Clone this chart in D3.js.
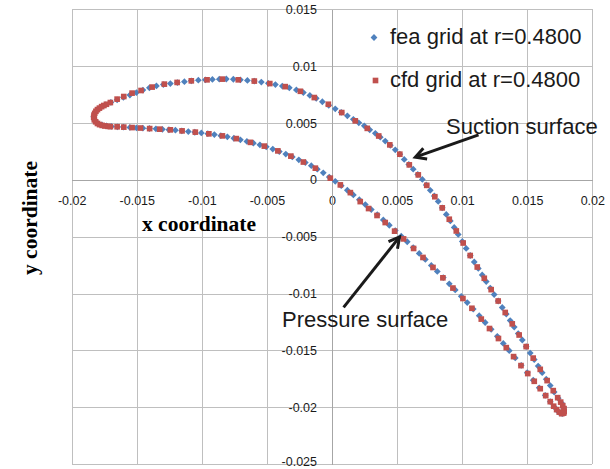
<!DOCTYPE html>
<html><head><meta charset="utf-8">
<script src="https://cdn.jsdelivr.net/npm/d3@7/dist/d3.min.js"></script>
<style>html,body{margin:0;padding:0;background:#fff;}svg{display:block;}</style>
</head><body>
<script>
// ---- data (x, y) ----
const feaSuction = [[-0.01831,0.00555],[-0.01822,0.00590],[-0.01799,0.00621],[-0.01772,0.00643],[-0.01741,0.00660],[-0.01699,0.00682],[-0.01651,0.00704],[-0.01603,0.00726],[-0.01553,0.00746],[-0.01503,0.00768],
[-0.01453,0.00790],[-0.01403,0.00810],[-0.01349,0.00826],[-0.01296,0.00838],[-0.01242,0.00847],[-0.01188,0.00856],[-0.01134,0.00864],[-0.01081,0.00871],[-0.01027,0.00877],[-0.00973,0.00880],
[-0.00919,0.00883],[-0.00866,0.00886],[-0.00812,0.00887],[-0.00758,0.00885],[-0.00704,0.00880],[-0.00650,0.00875],[-0.00597,0.00869],[-0.00543,0.00860],[-0.00489,0.00849],[-0.00435,0.00838],
[-0.00382,0.00825],[-0.00328,0.00810],[-0.00274,0.00791],[-0.00220,0.00768],[-0.00170,0.00743],[-0.00121,0.00717],[-0.00074,0.00687],[-0.00025,0.00656],[0.00025,0.00625],[0.00071,0.00594],
[0.00118,0.00563],[0.00164,0.00533],[0.00206,0.00502],[0.00248,0.00475],[0.00290,0.00440],[0.00333,0.00409],[0.00371,0.00376],[0.00409,0.00341],[0.00448,0.00304],[0.00486,0.00264],
[0.00521,0.00226],[0.00555,0.00180],[0.00590,0.00136],[0.00624,0.00094],[0.00659,0.00048],[0.00694,0.00004],[0.00724,-0.00044],[0.00755,-0.00092],[0.00786,-0.00141],[0.00816,-0.00189],
[0.00847,-0.00246],[0.00878,-0.00304],[0.00909,-0.00361],[0.00939,-0.00418],[0.00970,-0.00480],[0.01001,-0.00541],[0.01031,-0.00603],[0.01062,-0.00665],[0.01093,-0.00722],[0.01124,-0.00779],
[0.01154,-0.00836],[0.01185,-0.00894],[0.01216,-0.00951],[0.01246,-0.01008],[0.01277,-0.01065],[0.01308,-0.01122],[0.01339,-0.01180],[0.01369,-0.01237],[0.01400,-0.01294],[0.01431,-0.01351],
[0.01462,-0.01408],[0.01492,-0.01466],[0.01523,-0.01523],[0.01554,-0.01580],[0.01584,-0.01637],[0.01615,-0.01695],[0.01646,-0.01752],[0.01677,-0.01809],[0.01707,-0.01866],[0.01738,-0.01919],
[0.01765,-0.01963],[0.01780,-0.02003],[0.01780,-0.02034]];

const feaPressure = [[-0.01822,0.00519],[-0.01799,0.00497],[-0.01768,0.00484],[-0.01733,0.00475],[-0.01695,0.00470],[-0.01649,0.00467],[-0.01603,0.00464],[-0.01553,0.00461],[-0.01503,0.00458],[-0.01453,0.00455],
[-0.01403,0.00452],[-0.01353,0.00449],[-0.01303,0.00445],[-0.01253,0.00441],[-0.01203,0.00437],[-0.01154,0.00431],[-0.01104,0.00425],[-0.01054,0.00419],[-0.01004,0.00413],[-0.00954,0.00406],
[-0.00904,0.00398],[-0.00854,0.00389],[-0.00804,0.00379],[-0.00754,0.00366],[-0.00704,0.00352],[-0.00654,0.00338],[-0.00604,0.00323],[-0.00554,0.00308],[-0.00505,0.00291],[-0.00455,0.00271],
[-0.00405,0.00249],[-0.00355,0.00227],[-0.00305,0.00202],[-0.00255,0.00176],[-0.00205,0.00152],[-0.00159,0.00125],[-0.00113,0.00094],[-0.00067,0.00062],[-0.00021,0.00025],[0.00025,-0.00013],
[0.00071,-0.00051],[0.00118,-0.00091],[0.00164,-0.00132],[0.00210,-0.00174],[0.00256,-0.00217],[0.00302,-0.00261],[0.00348,-0.00306],[0.00394,-0.00352],[0.00440,-0.00399],[0.00486,-0.00446],
[0.00532,-0.00495],[0.00578,-0.00544],[0.00624,-0.00595],[0.00670,-0.00647],[0.00717,-0.00699],[0.00763,-0.00752],[0.00809,-0.00805],[0.00855,-0.00859],[0.00901,-0.00914],[0.00947,-0.00968],
[0.00993,-0.01024],[0.01039,-0.01079],[0.01085,-0.01136],[0.01131,-0.01194],[0.01177,-0.01254],[0.01223,-0.01314],[0.01270,-0.01376],[0.01316,-0.01438],[0.01362,-0.01502],[0.01408,-0.01566],
[0.01454,-0.01631],[0.01500,-0.01696],[0.01546,-0.01761],[0.01592,-0.01828],[0.01638,-0.01894],[0.01677,-0.01950],[0.01711,-0.02001],[0.01742,-0.02041],[0.01769,-0.02056]];

const cfdSuction = [[-0.01831,0.00550],[-0.01829,0.00568],[-0.01823,0.00585],[-0.01814,0.00603],[-0.01802,0.00618],[-0.01787,0.00631],[-0.01770,0.00644],[-0.01753,0.00654],[-0.01733,0.00665],[-0.01703,0.00680],
[-0.01651,0.00710],[-0.01600,0.00733],[-0.01536,0.00763],[-0.01467,0.00786],[-0.01382,0.00816],[-0.01288,0.00842],[-0.01190,0.00857],[-0.01081,0.00871],[-0.00960,0.00880],[-0.00842,0.00886],
[-0.00720,0.00880],[-0.00597,0.00869],[-0.00478,0.00847],[-0.00359,0.00820],[-0.00243,0.00779],[-0.00136,0.00724],[-0.00028,0.00665],[0.00075,0.00592],[0.00179,0.00519],[0.00271,0.00453],
[0.00359,0.00386],[0.00444,0.00308],[0.00521,0.00226],[0.00594,0.00132],[0.00663,0.00044],[0.00728,-0.00048],[0.00790,-0.00148],[0.00847,-0.00246],[0.00901,-0.00346],[0.00955,-0.00449],
[0.01008,-0.00555],[0.01062,-0.00665],[0.01116,-0.00766],[0.01170,-0.00865],[0.01223,-0.00965],[0.01277,-0.01065],[0.01331,-0.01166],[0.01385,-0.01266],[0.01438,-0.01364],[0.01492,-0.01466],
[0.01546,-0.01567],[0.01600,-0.01666],[0.01653,-0.01765],[0.01700,-0.01853],[0.01734,-0.01915],[0.01757,-0.01954],[0.01773,-0.01985],[0.01783,-0.02011],[0.01784,-0.02038]];

const cfdPressure = [[-0.01826,0.00528],[-0.01816,0.00511],[-0.01802,0.00496],[-0.01786,0.00486],[-0.01766,0.00479],[-0.01745,0.00474],[-0.01722,0.00471],[-0.01703,0.00468],[-0.01651,0.00467],[-0.01600,0.00464],
[-0.01536,0.00460],[-0.01472,0.00456],[-0.01401,0.00451],[-0.01324,0.00446],[-0.01242,0.00440],[-0.01152,0.00431],[-0.01050,0.00420],[-0.00946,0.00405],[-0.00842,0.00387],[-0.00735,0.00363],
[-0.00627,0.00330],[-0.00520,0.00297],[-0.00416,0.00255],[-0.00316,0.00209],[-0.00220,0.00157],[-0.00128,0.00103],[-0.00013,0.00015],[0.00064,-0.00044],[0.00141,-0.00112],[0.00217,-0.00191],
[0.00281,-0.00252],[0.00346,-0.00313],[0.00409,-0.00375],[0.00481,-0.00451],[0.00550,-0.00519],[0.00627,-0.00603],[0.00699,-0.00682],[0.00776,-0.00770],[0.00852,-0.00861],[0.00929,-0.00951],
[0.01006,-0.01043],[0.01075,-0.01129],[0.01147,-0.01224],[0.01210,-0.01307],[0.01279,-0.01395],[0.01339,-0.01475],[0.01395,-0.01554],[0.01452,-0.01633],[0.01504,-0.01703],[0.01554,-0.01771],
[0.01600,-0.01836],[0.01642,-0.01897],[0.01677,-0.01950],[0.01703,-0.01990],[0.01726,-0.02020],[0.01746,-0.02042],[0.01765,-0.02056],[0.01780,-0.02051]];

const xTicks = [-0.02,-0.015,-0.01,-0.005,0,0.005,0.01,0.015,0.02];
const yTicks = [-0.025,-0.02,-0.015,-0.01,-0.005,0,0.005,0.01,0.015];
const seriesNames = ["fea grid at r=0.4800","cfd grid at r=0.4800"];
const seriesColors = ["#4f81bd","#c0504d"];
const xTitle = "x coordinate", yTitle = "y coordinate";
// annotations: [label, textX, textY, arrowFromX, arrowFromY, arrowToX, arrowToY] in data units
const annotations = [
  ["Suction surface", 0.00876, 0.00405, 0.01126, 0.00396, 0.00640, 0.00200],
  ["Pressure surface", -0.00384, -0.01291, 0.00089, -0.01121, 0.00519, -0.00502]
];

// ---- layout ----
const W = 610, H = 469;
const x = d3.scaleLinear().domain([-0.02, 0.02]).range([71.7, 592.3]);
const y = d3.scaleLinear().domain([-0.025, 0.015]).range([464.2, 9.3]);
const fmt = d => String(+d.toFixed(3));

const svg = d3.select("body").append("svg").attr("width", W).attr("height", H);

// gridlines
svg.append("g").attr("transform", `translate(0,${y.range()[1]})`)
  .call(d3.axisBottom(x).tickValues(xTicks).tickSize(y.range()[0]-y.range()[1]).tickFormat(""))
  .call(g => { g.select(".domain").remove(); g.selectAll("line").attr("stroke", "#bfbfbf").attr("shape-rendering","crispEdges"); });
svg.append("g").attr("transform", `translate(${x.range()[0]},0)`)
  .call(d3.axisRight(y).tickValues(yTicks).tickSize(x.range()[1]-x.range()[0]).tickFormat(""))
  .call(g => { g.select(".domain").remove(); g.selectAll("line").attr("stroke", "#bfbfbf").attr("shape-rendering","crispEdges"); });

// axes through zero
const xAxis = svg.append("g").attr("transform", `translate(0,${y(0)})`)
  .call(d3.axisBottom(x).tickValues(xTicks).tickSize(0).tickPadding(15.8).tickFormat(fmt));
const yAxis = svg.append("g").attr("transform", `translate(${x(0)},0)`)
  .call(d3.axisLeft(y).tickValues(yTicks).tickSize(0).tickPadding(15).tickFormat(fmt));
[xAxis, yAxis].forEach(g => {
  g.select(".domain").attr("stroke", "#a6a6a6").attr("shape-rendering","crispEdges");
  g.selectAll("text").attr("font-family", "'Liberation Sans', Arial, sans-serif").attr("font-size", 12.5).attr("fill", "#1a1a1a");
});
yAxis.selectAll(".tick").filter(d => d === -0.025).select("text").attr("dy", "0.1em");

// series
const diamond = d3.symbol().type(d3.symbolSquare).size(23);
const square = d3.symbol().type(d3.symbolSquare).size(32);
const fea = feaSuction.concat(feaPressure);
const cfd = cfdSuction.concat(cfdPressure);
svg.append("g").selectAll("path").data(fea).join("path")
  .attr("d", diamond).attr("fill", seriesColors[0])
  .attr("transform", d => `translate(${x(d[0])},${y(d[1])}) rotate(45)`);
svg.append("g").selectAll("path").data(cfd).join("path")
  .attr("d", square).attr("fill", seriesColors[1])
  .attr("transform", d => `translate(${x(d[0])},${y(d[1])})`);

// axis titles
svg.append("text").text(xTitle).attr("x", 199).attr("y", 230.5)
  .attr("text-anchor", "middle").attr("font-family", "'Liberation Serif', 'Times New Roman', serif")
  .attr("font-weight", "bold").attr("font-size", 21.5).attr("fill", "#000");
svg.append("text").text(yTitle).attr("transform", "translate(37,218) rotate(-90)")
  .attr("text-anchor", "middle").attr("font-family", "'Liberation Serif', 'Times New Roman', serif")
  .attr("font-weight", "bold").attr("font-size", 21.5).attr("fill", "#000");

// legend
const leg = svg.append("g");
[0, 1].forEach(i => {
  const cy = 37.5 + i * 43;
  leg.append("path").attr("d", i === 0 ? diamond : square).attr("fill", seriesColors[i])
    .attr("transform", `translate(${i === 0 ? 374 : 375.5},${cy})${i === 0 ? " rotate(45)" : ""}`);
  leg.append("text").text(seriesNames[i]).attr("x", 390).attr("y", cy + 6.5)
    .attr("font-family", "'Liberation Sans', Arial, sans-serif").attr("font-size", 22).attr("fill", "#1a1a1a");
});

// annotations
annotations.forEach(a => {
  svg.append("text").text(a[0]).attr("x", x(a[1])).attr("y", y(a[2]))
    .attr("font-family", "'Liberation Sans', Arial, sans-serif").attr("font-size", 22).attr("fill", "#1a1a1a");
  const x1 = x(a[3]), y1 = y(a[4]), x2 = x(a[5]), y2 = y(a[6]);
  const ang = Math.atan2(y2 - y1, x2 - x1), L = 12, sp = 0.5;
  const p1 = [x2 - L * Math.cos(ang - sp), y2 - L * Math.sin(ang - sp)];
  const p2 = [x2 - L * Math.cos(ang + sp), y2 - L * Math.sin(ang + sp)];
  svg.append("line").attr("x1", x1).attr("y1", y1).attr("x2", x2 - 1.5*Math.cos(ang)).attr("y2", y2 - 1.5*Math.sin(ang))
    .attr("stroke", "#1a1a1a").attr("stroke-width", 3);
  svg.append("path").attr("d", `M${p1[0]},${p1[1]}L${x2},${y2}L${p2[0]},${p2[1]}`)
    .attr("fill", "none").attr("stroke", "#1a1a1a").attr("stroke-width", 3).attr("stroke-linejoin", "miter");
});
</script>
</body></html>
